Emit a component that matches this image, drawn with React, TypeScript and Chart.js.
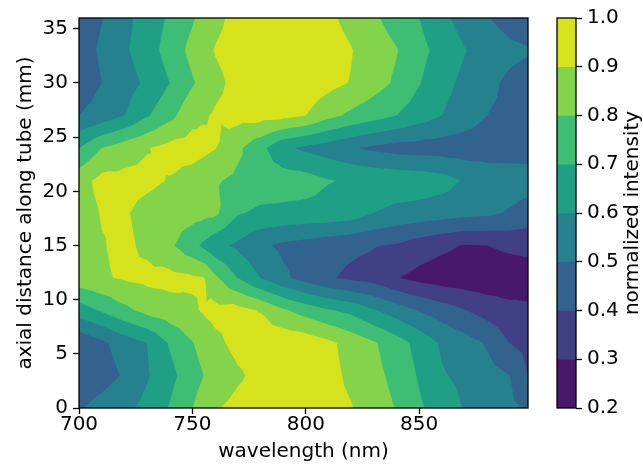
import { useEffect, useRef } from 'react';
import { Chart, registerables } from 'chart.js';

Chart.register(...registerables);

// Sample grid: wavelength columns (nm) and axial positions (mm)
const WAVELENGTHS = [700, 710, 720, 730, 740, 750, 755, 760, 770, 780, 790, 800, 810, 820, 830, 840, 850, 860, 870, 880, 890, 898];
const DISTANCES = [0, 3, 6, 9, 12, 15, 18, 21, 24, 27, 30, 33, 36];

// Normalized intensity along each axial position, one value per wavelength column
const ROW_0MM = [0.49, 0.535, 0.575, 0.63, 0.707, 0.8, 0.85, 0.89, 0.93, 0.95, 0.96, 0.955, 0.935, 0.905, 0.85, 0.795, 0.715, 0.655, 0.595, 0.56, 0.52, 0.49];
const ROW_3MM = [0.43, 0.46, 0.51, 0.59, 0.67, 0.76, 0.8, 0.83, 0.885, 0.93, 0.95, 0.95, 0.93, 0.88, 0.83, 0.77, 0.69, 0.61, 0.575, 0.535, 0.5, 0.4];
const ROW_6MM = [0.42, 0.48, 0.545, 0.6, 0.71, 0.795, 0.84, 0.875, 0.93, 0.96, 0.97, 0.96, 0.92, 0.865, 0.81, 0.745, 0.665, 0.585, 0.54, 0.49, 0.4, 0.37];
const ROW_9MM = [0.65, 0.71, 0.775, 0.83, 0.86, 0.885, 0.91, 0.93, 0.935, 0.895, 0.815, 0.76, 0.71, 0.675, 0.61, 0.55, 0.495, 0.45, 0.405, 0.36, 0.33, 0.32];
const ROW_12MM = [0.86, 0.89, 0.91, 0.925, 0.93, 0.915, 0.905, 0.82, 0.7, 0.6, 0.52, 0.46, 0.41, 0.38, 0.36, 0.305, 0.27, 0.25, 0.24, 0.235, 0.24, 0.25];
const ROW_15MM = [0.86, 0.895, 0.92, 0.88, 0.82, 0.73, 0.68, 0.63, 0.58, 0.52, 0.48, 0.46, 0.44, 0.42, 0.405, 0.39, 0.35, 0.32, 0.295, 0.3, 0.32, 0.33];
const ROW_18MM = [0.86, 0.905, 0.91, 0.87, 0.85, 0.84, 0.83, 0.82, 0.71, 0.68, 0.675, 0.67, 0.665, 0.65, 0.6, 0.57, 0.56, 0.545, 0.53, 0.52, 0.49, 0.46];
const ROW_21MM = [0.86, 0.93, 0.93, 0.92, 0.895, 0.86, 0.835, 0.81, 0.78, 0.76, 0.75, 0.74, 0.705, 0.69, 0.68, 0.67, 0.66, 0.64, 0.59, 0.56, 0.55, 0.54];
const ROW_24MM = [0.7, 0.8, 0.85, 0.895, 0.93, 0.94, 0.925, 0.905, 0.82, 0.73, 0.62, 0.58, 0.55, 0.51, 0.48, 0.46, 0.455, 0.45, 0.445, 0.45, 0.455, 0.46];
const ROW_27MM = [0.5, 0.54, 0.6, 0.69, 0.77, 0.87, 0.89, 0.91, 0.935, 0.94, 0.93, 0.9, 0.83, 0.78, 0.74, 0.7, 0.65, 0.6, 0.55, 0.5, 0.48, 0.47];
const ROW_30MM = [0.44, 0.5, 0.555, 0.62, 0.7, 0.79, 0.83, 0.875, 0.93, 0.96, 0.97, 0.96, 0.93, 0.895, 0.84, 0.785, 0.705, 0.635, 0.575, 0.525, 0.48, 0.455];
const ROW_33MM = [0.45, 0.515, 0.585, 0.655, 0.74, 0.83, 0.87, 0.905, 0.94, 0.96, 0.97, 0.965, 0.945, 0.905, 0.85, 0.805, 0.73, 0.665, 0.605, 0.56, 0.525, 0.51];
const ROW_36MM = [0.45, 0.496, 0.57, 0.645, 0.715, 0.79, 0.83, 0.875, 0.93, 0.96, 0.97, 0.96, 0.92, 0.87, 0.815, 0.76, 0.7, 0.625, 0.56, 0.505, 0.46, 0.43];

const INTENSITY = [
  ROW_0MM, ROW_3MM, ROW_6MM, ROW_9MM, ROW_12MM, ROW_15MM, ROW_18MM,
  ROW_21MM, ROW_24MM, ROW_27MM, ROW_30MM, ROW_33MM, ROW_36MM,
];

// Contour levels and the viridis colour of each band between them
const LEVELS = [0.2, 0.3, 0.4, 0.5, 0.6, 0.7, 0.8, 0.9, 1.0];
const BAND_COLORS = ['#48186a', '#424085', '#32638e', '#26818e', '#209f87', '#3ebd74', '#83d34b', '#d6e21b'];

const X_TICKS = [700, 750, 800, 850];
const Y_TICKS = [0, 5, 10, 15, 20, 25, 30, 35];

const FONT_FAMILY = "'DejaVu Sans', sans-serif";
const FONT_SIZE = 20;
const INK = '#000000';

type Node = { x: number; y: number; z: number };

// Keep the part of a polygon where z >= level, interpolating linearly along edges
function clipAbove(poly: Node[], level: number): Node[] {
  const out: Node[] = [];
  for (let i = 0; i < poly.length; i++) {
    const a = poly[i];
    const b = poly[(i + 1) % poly.length];
    const inA = a.z >= level;
    const inB = b.z >= level;
    if (inA) out.push(a);
    if (inA !== inB) {
      const t = (level - a.z) / (b.z - a.z);
      out.push({ x: a.x + t * (b.x - a.x), y: a.y + t * (b.y - a.y), z: level });
    }
  }
  return out;
}

const contourPlugin = {
  id: 'filledContours',
  beforeDatasetsDraw(chart: any) {
    const { ctx, chartArea, scales } = chart;
    const xs = scales.x;
    const ys = scales.y;
    const nodes: Node[][] = INTENSITY.map((row, j) =>
      row.map((z, i) => ({
        x: xs.getPixelForValue(WAVELENGTHS[i]),
        y: ys.getPixelForValue(DISTANCES[j]),
        z,
      }))
    );
    // each grid cell is split into four triangles around its centre (mean of the corners)
    const tris: Node[][] = [];
    for (let j = 0; j < nodes.length - 1; j++) {
      for (let i = 0; i < nodes[j].length - 1; i++) {
        const a = nodes[j][i];
        const b = nodes[j][i + 1];
        const c = nodes[j + 1][i + 1];
        const d = nodes[j + 1][i];
        const m = {
          x: (a.x + b.x + c.x + d.x) / 4,
          y: (a.y + b.y + c.y + d.y) / 4,
          z: (a.z + b.z + c.z + d.z) / 4,
        };
        tris.push([a, b, m], [b, c, m], [c, d, m], [d, a, m]);
      }
    }
    ctx.save();
    ctx.beginPath();
    ctx.rect(chartArea.left, chartArea.top, chartArea.width, chartArea.height);
    ctx.clip();
    // paint superlevel sets from the lowest level upward so bands never leave gaps
    for (let k = 0; k < LEVELS.length - 1; k++) {
      ctx.beginPath();
      for (const tri of tris) {
        const poly = k === 0 ? tri : clipAbove(tri, LEVELS[k]);
        if (poly.length < 3) continue;
        ctx.moveTo(poly[0].x, poly[0].y);
        for (let p = 1; p < poly.length; p++) ctx.lineTo(poly[p].x, poly[p].y);
        ctx.closePath();
      }
      ctx.fillStyle = BAND_COLORS[k];
      ctx.fill();
    }
    ctx.restore();
  },
  afterDatasetsDraw(chart: any) {
    const { ctx, chartArea } = chart;
    ctx.save();
    ctx.strokeStyle = INK;
    ctx.lineWidth = 1.3;
    ctx.strokeRect(chartArea.left, chartArea.top, chartArea.width, chartArea.height);
    ctx.restore();
  },
};

const colorbarPlugin = {
  id: 'colorbarFrame',
  afterDatasetsDraw(chart: any) {
    const { ctx, chartArea } = chart;
    ctx.save();
    ctx.strokeStyle = INK;
    ctx.lineWidth = 1.3;
    ctx.strokeRect(chartArea.left, chartArea.top, chartArea.width, chartArea.height);
    ctx.translate(633, (chartArea.top + chartArea.bottom) / 2);
    ctx.rotate(-Math.PI / 2);
    ctx.fillStyle = INK;
    ctx.font = `${FONT_SIZE}px ${FONT_FAMILY}`;
    ctx.textAlign = 'center';
    ctx.textBaseline = 'middle';
    ctx.fillText('normalized intensity', 0, 0);
    ctx.restore();
  },
};

const tickFont = { family: FONT_FAMILY, size: FONT_SIZE, lineHeight: 1.1 };
const tickGrid = { drawOnChartArea: false, drawTicks: true, tickLength: 6, tickColor: INK, tickWidth: 1.3 };

export default function App() {
  const mainRef = useRef<HTMLCanvasElement>(null);
  const barRef = useRef<HTMLCanvasElement>(null);

  useEffect(() => {
    if (!mainRef.current || !barRef.current) return;

    const main = new Chart(mainRef.current, {
      type: 'scatter',
      data: { datasets: [] },
      options: {
        animation: false,
        responsive: false,
        events: [],
        layout: { padding: { left: 0, right: 115, top: 18, bottom: 0 } },
        plugins: { legend: { display: false }, tooltip: { enabled: false } },
        scales: {
          x: {
            type: 'linear',
            min: WAVELENGTHS[0],
            max: WAVELENGTHS[WAVELENGTHS.length - 1],
            afterBuildTicks: (s: any) => { s.ticks = X_TICKS.map((v) => ({ value: v })); },
            afterFit: (s: any) => { s.height = 58; },
            grid: tickGrid,
            border: { display: false },
            ticks: { color: INK, font: tickFont, padding: 0, maxRotation: 0, autoSkip: false },
            title: {
              display: true,
              text: 'wavelength (nm)',
              color: INK,
              font: { family: FONT_FAMILY, size: FONT_SIZE, lineHeight: 1.2 },
              padding: { top: 0, bottom: 2 },
            },
          },
          y: {
            type: 'linear',
            min: DISTANCES[0],
            max: DISTANCES[DISTANCES.length - 1],
            afterBuildTicks: (s: any) => { s.ticks = Y_TICKS.map((v) => ({ value: v })); },
            afterFit: (s: any) => { s.width = 79; },
            grid: tickGrid,
            border: { display: false },
            ticks: { color: INK, font: tickFont, padding: 5, autoSkip: false },
            title: {
              display: true,
              text: 'axial distance along tube (mm)',
              color: INK,
              font: { family: FONT_FAMILY, size: FONT_SIZE, lineHeight: 1.2 },
              padding: { top: 14, bottom: 0 },
            },
          },
        },
      },
      plugins: [contourPlugin],
    });

    const top = LEVELS[LEVELS.length - 1];
    const bands = LEVELS.slice(0, -1).map((lo, k) => ({
      label: `${lo.toFixed(1)}`,
      data: [[lo, top]] as any,
      backgroundColor: BAND_COLORS[k],
      borderWidth: 0,
      grouped: false,
      barPercentage: 1,
      categoryPercentage: 1,
    }));

    const colorbar = new Chart(barRef.current, {
      type: 'bar',
      data: { labels: ['normalized intensity'], datasets: bands.reverse() },
      options: {
        animation: false,
        responsive: false,
        events: [],
        layout: { padding: { left: 557, right: 0, top: 18, bottom: 58 } },
        plugins: { legend: { display: false }, tooltip: { enabled: false } },
        scales: {
          x: { display: false },
          y: {
            type: 'linear',
            position: 'right',
            min: LEVELS[0],
            max: top,
            afterBuildTicks: (s: any) => { s.ticks = LEVELS.map((v) => ({ value: v })); },
            afterFit: (s: any) => { s.width = 67; },
            grid: tickGrid,
            border: { display: false },
            ticks: {
              color: INK,
              font: tickFont,
              padding: 5,
              autoSkip: false,
              callback: (v: any) => Number(v).toFixed(1),
            },
          },
        },
      },
      plugins: [colorbarPlugin],
    });

    return () => {
      main.destroy();
      colorbar.destroy();
    };
  }, []);

  return (
    <div style={{ position: 'fixed', left: 0, top: 0, width: 643, height: 466, background: '#ffffff' }}>
      <canvas ref={mainRef} width={643} height={466} style={{ position: 'absolute', left: 0, top: 0 }} />
      <canvas ref={barRef} width={643} height={466} style={{ position: 'absolute', left: 0, top: 0 }} />
    </div>
  );
}
